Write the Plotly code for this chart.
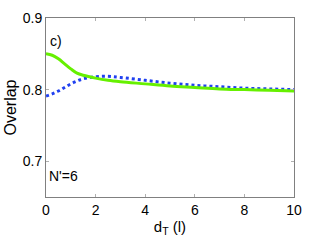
import plotly.graph_objects as go

x_green = [0, 0.25, 0.5, 0.75, 1.0, 1.25, 1.5, 2, 2.5, 3, 4, 5, 6, 7, 8, 9, 10]
y_green = [0.850, 0.848, 0.843, 0.836, 0.829, 0.823, 0.820, 0.816, 0.813, 0.811, 0.808, 0.805, 0.803, 0.801, 0.800, 0.799, 0.798]
x_blue = [0, 0.25, 0.5, 0.75, 1.0, 1.25, 1.5, 2, 2.5, 3, 4, 5, 6, 7, 8, 9, 10]
y_blue = [0.791, 0.794, 0.798, 0.803, 0.808, 0.812, 0.815, 0.818, 0.8185, 0.817, 0.813, 0.809, 0.806, 0.804, 0.802, 0.801, 0.800]

x_ticks = [0, 2, 4, 6, 8, 10]
y_ticks = [0.7, 0.8, 0.9]

FONT = "Liberation Sans, Arial, Helvetica"

fig = go.Figure()
fig.add_trace(go.Scatter(x=x_blue, y=y_blue, mode="lines", line=dict(color="#2040f0", width=3, dash="dot", shape="spline")))
fig.add_trace(go.Scatter(x=x_green, y=y_green, mode="lines", line=dict(color="#66f000", width=3, shape="spline")))

axis_common = dict(showgrid=False, zeroline=False, showline=True, linecolor="#808080", linewidth=1,
                   mirror="ticks", ticks="inside", ticklen=3, tickcolor="#b0b0b0",
                   tickfont=dict(family=FONT, size=14, color="black"))
fig.update_xaxes(range=[0, 10], tickvals=x_ticks, ticktext=[str(v) for v in x_ticks],
                 title=dict(text="d<sub>T</sub> (l)", font=dict(family=FONT, size=15, color="black"), standoff=4),
                 **axis_common)
fig.update_yaxes(range=[0.65, 0.9], tickvals=y_ticks, ticktext=["0.7", "0.8", "0.9"],
                 title=dict(text="Overlap", font=dict(family=FONT, size=16, color="black"), standoff=2),
                 **axis_common)
fig.add_annotation(x=0.1, y=0.868, xref="x", yref="y", text="c)", showarrow=False, xanchor="left", yanchor="middle",
                   font=dict(family=FONT, size=14, color="black"))
fig.add_annotation(x=0.05, y=0.680, xref="x", yref="y", text="N'=6", showarrow=False, xanchor="left", yanchor="middle",
                   font=dict(family=FONT, size=14, color="black"))
fig.update_layout(width=312, height=242, margin=dict(l=43, r=10, t=11, b=37), showlegend=False,
                  plot_bgcolor="white", paper_bgcolor="white")
fig.write_html("out.html", config={"displayModeBar": False},
               post_script="document.body.style.margin='0';document.body.style.padding='0';")
